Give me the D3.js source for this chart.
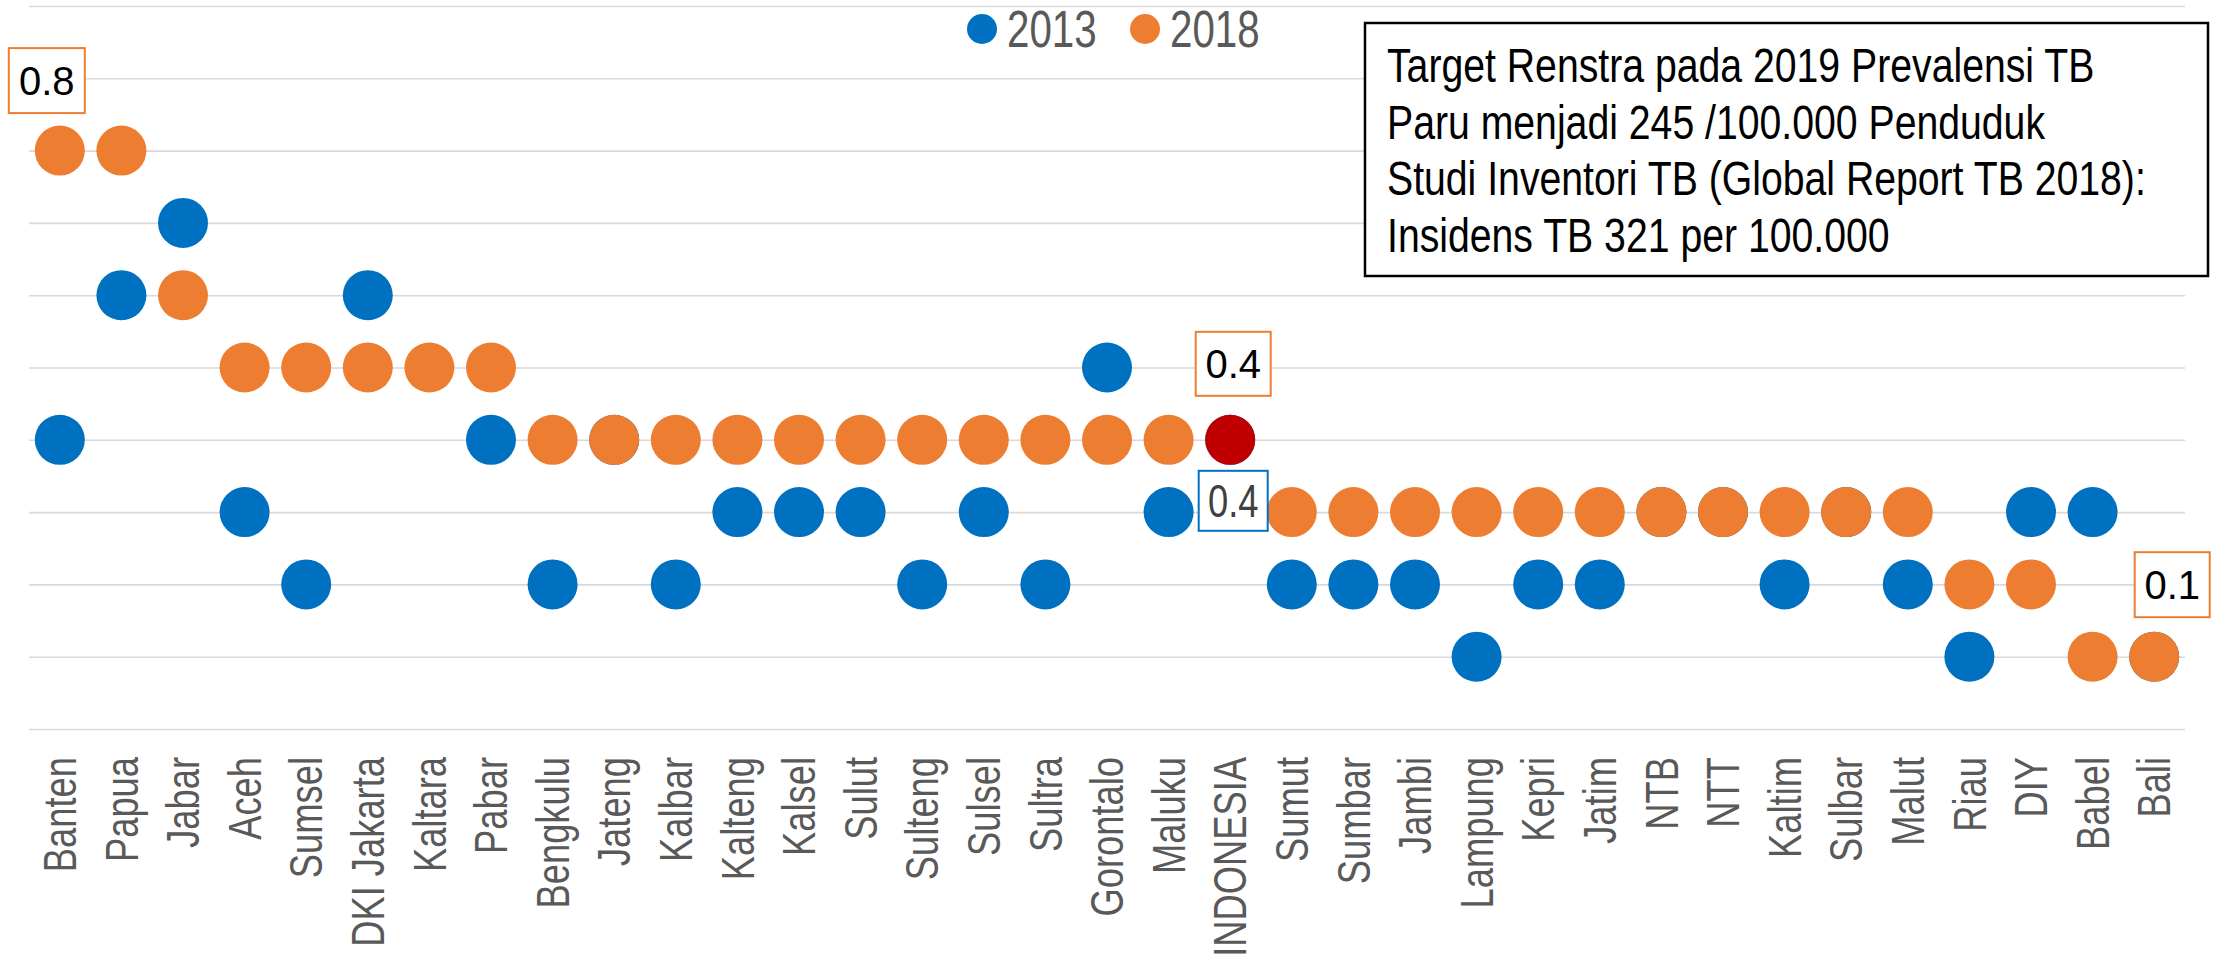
<!DOCTYPE html>
<html>
<head>
<meta charset="utf-8">
<script src="https://cdn.jsdelivr.net/npm/d3@7"></script>
<style>
  body { margin: 0; background: #fff; }
  text { font-family: "Liberation Sans", Arial, sans-serif; }
</style>
</head>
<body>
<svg id="chart" width="2216" height="961"></svg>
<script>
// categories (provinces, sorted by 2018 prevalence)
var provinces = ["Banten", "Papua", "Jabar", "Aceh", "Sumsel", "DKI Jakarta", "Kaltara", "Pabar",
  "Bengkulu", "Jateng", "Kalbar", "Kalteng", "Kalsel", "Sulut", "Sulteng", "Sulsel", "Sultra",
  "Gorontalo", "Maluku", "INDONESIA", "Sumut", "Sumbar", "Jambi", "Lampung", "Kepri", "Jatim",
  "NTB", "NTT", "Kaltim", "Sulbar", "Malut", "Riau", "DIY", "Babel", "Bali"];

// series values (2013 hidden under 2018 where equal)
var val2013 = [0.4, 0.6, 0.7, 0.3, 0.2, 0.6, null, 0.4,
  0.2, 0.4, 0.2, 0.3, 0.3, 0.3, 0.2, 0.3, 0.2,
  0.5, 0.3, 0.4, 0.2, 0.2, 0.2, 0.1, 0.2, 0.2,
  0.3, 0.3, 0.2, 0.3, 0.2, 0.1, 0.3, 0.3, 0.1];
var val2018 = [0.8, 0.8, 0.6, 0.5, 0.5, 0.5, 0.5, 0.5,
  0.4, 0.4, 0.4, 0.4, 0.4, 0.4, 0.4, 0.4, 0.4,
  0.4, 0.4, 0.4, 0.3, 0.3, 0.3, 0.3, 0.3, 0.3,
  0.3, 0.3, 0.3, 0.3, 0.3, 0.2, 0.2, 0.1, 0.1];

var years = ["2013", "2018"];
var gridTicks = [0, 0.1, 0.2, 0.3, 0.4, 0.5, 0.6, 0.7, 0.8, 0.9, 1.0];

// points that get a boxed data label
var labelled = [
  {cat: "Banten", year: "2018"},
  {cat: "INDONESIA", year: "2018"},
  {cat: "INDONESIA", year: "2013"},
  {cat: "Bali", year: "2018"}
];

var noteLines = [
  "Target Renstra pada 2019 Prevalensi TB",
  "Paru menjadi 245 /100.000 Penduduk",
  "Studi Inventori TB (Global Report TB 2018):",
  "Insidens TB 321 per 100.000"
];

var blue = "#0070C0", orange = "#ED7D31", red = "#C00000";

var svg = d3.select("#chart");

var x = d3.scaleBand()
  .domain(provinces)
  .range([29, 2185]);

var y = d3.scaleLinear()
  .domain([0, 1])
  .range([729, 6]);

// gridlines
var grid = svg.append("g")
  .attr("transform", "translate(29,0)")
  .call(d3.axisLeft(y).tickValues(gridTicks).tickSize(-(2185 - 29)).tickFormat(""));
grid.select(".domain").remove();
grid.selectAll("line").attr("stroke", "#d9d9d9").attr("stroke-width", 1.6);

// x axis labels
var xAxis = svg.append("g")
  .attr("transform", "translate(0,729)")
  .call(d3.axisBottom(x).tickSize(0));
xAxis.select(".domain").remove();
xAxis.selectAll("text")
  .attr("x", 0).attr("y", 0).attr("dy", "0.35em")
  .attr("text-anchor", "end")
  .attr("transform", "translate(0,28) rotate(-90) scale(0.79,1)")
  .style("font-size", "46px")
  .style("font-family", "'Liberation Sans', Arial, sans-serif")
  .attr("fill", "#595959");

// dots: 2013 first, 2018 on top
var pts13 = provinces.map(function(p, i) { return {cat: p, v: val2013[i], year: "2013"}; })
  .filter(function(d) { return d.v != null; });
var pts18 = provinces.map(function(p, i) { return {cat: p, v: val2018[i], year: "2018"}; });

var r = 25;
svg.append("g").selectAll("circle")
  .data(pts13).enter().append("circle")
  .attr("cx", function(d) { return x(d.cat) + x.bandwidth() / 2; })
  .attr("cy", function(d) { return y(d.v); })
  .attr("r", r)
  .attr("fill", blue);

svg.append("g").selectAll("circle")
  .data(pts18).enter().append("circle")
  .attr("cx", function(d) { return x(d.cat) + x.bandwidth() / 2; })
  .attr("cy", function(d) { return y(d.v); })
  .attr("r", r)
  .attr("fill", function(d) { return d.cat == "INDONESIA" ? red : orange; });

// boxed data labels
function labelPos(d) {
  // offsets of the label box centre from the point, as in the original
  if (d.year == "2013") return {dx: 3, dy: 61, w: 69, h: 60};
  if (d.cat == "Banten") return {dx: -13, dy: -70, w: 76, h: 65};
  if (d.cat == "Bali") return {dx: 18, dy: -72, w: 75, h: 65};
  return {dx: 3, dy: -76, w: 75, h: 64};
}
labelled.forEach(function(d) {
  var i = provinces.indexOf(d.cat);
  var v = d.year == "2013" ? val2013[i] : val2018[i];
  var p = labelPos(d);
  var cx = x(d.cat) + x.bandwidth() / 2 + p.dx;
  var cy = y(v) + p.dy;
  var g = svg.append("g").attr("transform", "translate(" + cx + "," + cy + ")");
  g.append("rect")
    .attr("x", -p.w / 2).attr("y", -p.h / 2)
    .attr("width", p.w).attr("height", p.h)
    .attr("fill", "#fff")
    .attr("stroke", d.year == "2013" ? blue : orange)
    .attr("stroke-width", 2);
  if (d.year == "2013") {
    g.append("text")
      .attr("text-anchor", "middle").attr("dy", "0.36em")
      .attr("transform", "scale(0.79,1)")
      .style("font-size", "46px")
      .attr("fill", "#404040")
      .text(d3.format(".1f")(v));
  } else {
    g.append("text")
      .attr("text-anchor", "middle").attr("dy", "0.36em")
      .style("font-size", "40px")
      .attr("fill", "#000")
      .text(d3.format(".1f")(v));
  }
});

// legend
var legend = svg.append("g");
years.forEach(function(yr, k) {
  var lx = 982 + k * 163;
  legend.append("circle")
    .attr("cx", lx).attr("cy", 29).attr("r", 15)
    .attr("fill", yr == "2013" ? blue : orange);
  legend.append("text")
    .attr("transform", "translate(" + (lx + 25) + ",47) scale(0.79,1)")
    .style("font-size", "51px")
    .attr("fill", "#595959")
    .text(yr);
});

// note box
svg.append("rect")
  .attr("x", 1365).attr("y", 23)
  .attr("width", 843).attr("height", 253)
  .attr("fill", "#fff")
  .attr("stroke", "#000")
  .attr("stroke-width", 2.5);
svg.append("g").selectAll("text")
  .data(noteLines).enter().append("text")
  .attr("transform", function(d, i) { return "translate(1387," + (82 + i * 56.5) + ") scale(0.8,1)"; })
  .style("font-size", "49px")
  .attr("fill", "#000")
  .text(function(d) { return d; });
</script>
</body>
</html>
